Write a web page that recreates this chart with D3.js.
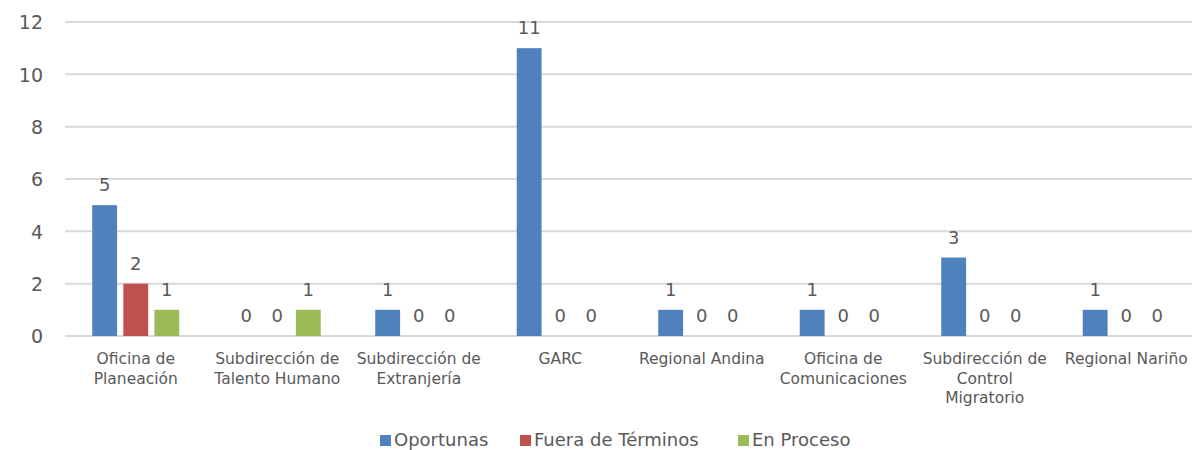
<!DOCTYPE html>
<html>
<head>
<meta charset="utf-8">
<script src="https://cdn.jsdelivr.net/npm/d3@7"></script>
<style>
  body { margin: 0; background: #fff; }
  text { font-family: Verdana, "DejaVu Sans", sans-serif; fill: #595959; }
</style>
</head>
<body>
<div id="chart-area"></div>
<script>
// data
let categories = [
  ["Oficina de", "Planeación"],
  ["Subdirección de", "Talento Humano"],
  ["Subdirección de", "Extranjería"],
  ["GARC"],
  ["Regional Andina"],
  ["Oficina de", "Comunicaciones"],
  ["Subdirección de", "Control", "Migratorio"],
  ["Regional Nariño"]
];
let seriesNames = ["Oportunas", "Fuera de Términos", "En Proceso"];
let oportunas = [5, 0, 1, 11, 1, 1, 3, 1];
let fueraDeTerminos = [2, 0, 0, 0, 0, 0, 0, 0];
let enProceso = [1, 1, 0, 0, 0, 0, 0, 0];
let yTicks = [0, 2, 4, 6, 8, 10, 12];
let colors = ["#4f81bd", "#c0504d", "#9bbb59"];

let width = 1192, height = 450;
let margin = { left: 65, right: -5, top: 22, bottom: 114 };

let svg = d3.select("#chart-area")
  .append("svg")
    .attr("width", width)
    .attr("height", height);

let g = svg.append("g")
  .attr("transform", "translate(" + margin.left + ", " + margin.top + ")");

let innerW = width - margin.left - margin.right;
let innerH = height - margin.top - margin.bottom;

let x0 = d3.scaleBand()
  .domain(d3.range(categories.length))
  .range([0, innerW]);

let groupW = x0.bandwidth() * 0.615;
let x1 = d3.scaleBand()
  .domain(seriesNames)
  .range([(x0.bandwidth() - groupW) / 2, (x0.bandwidth() + groupW) / 2])
  .paddingInner(0.2);

let y = d3.scaleLinear()
  .domain([0, 12])
  .range([innerH, 0]);

// gridlines
g.selectAll(".grid")
  .data(yTicks)
  .enter()
  .append("line")
  .attr("x1", 0)
  .attr("x2", innerW)
  .attr("y1", d => y(d))
  .attr("y2", d => y(d))
  .attr("stroke", "#d9d9d9")
  .attr("stroke-width", 2);

// y axis labels
let yAxisCall = d3.axisLeft(y).tickValues(yTicks).tickSize(0).tickPadding(22);
let yAxisGroup = g.append("g").call(yAxisCall);
yAxisGroup.select(".domain").remove();
yAxisGroup.selectAll("text")
  .attr("font-size", "19px")
  .attr("dy", "0.36em")
  .style("font-family", "Verdana, 'DejaVu Sans', sans-serif")
  .attr("fill", "#595959");

// bars
let seriesValues = [oportunas, fueraDeTerminos, enProceso];
let rows = [];
categories.forEach(function(c, i){
  seriesValues.forEach(function(vals, s){
    rows.push({ cat: i, s: s, v: vals[i] });
  });
});

let bars = g.selectAll(".bar-g")
  .data(rows)
  .enter()
  .append("g")
  .attr("transform", d => "translate(" + (x0(d.cat) + x1(seriesNames[d.s])) + ",0)");

bars.append("rect")
  .attr("y", d => y(d.v))
  .attr("width", x1.bandwidth())
  .attr("height", d => innerH - y(d.v))
  .attr("fill", d => colors[d.s]);

bars.append("text")
  .attr("x", x1.bandwidth() / 2)
  .attr("y", d => y(d.v) - 14)
  .attr("text-anchor", "middle")
  .attr("font-size", "18px")
  .text(d => d.v);

// category labels
let catG = g.selectAll(".cat")
  .data(categories)
  .enter()
  .append("text")
  .attr("text-anchor", "middle")
  .attr("font-size", "15.5px")
  .attr("transform", (d, i) => "translate(" + (x0(i) + x0.bandwidth() / 2) + "," + (innerH + 28) + ")");
catG.selectAll("tspan")
  .data(d => d)
  .enter()
  .append("tspan")
  .attr("x", 0)
  .attr("y", (d, i) => i * 19.5)
  .text(d => d);

// legend
let legendX = [380, 520, 738];
let legend = svg.append("g").attr("transform", "translate(0, 435)");
seriesNames.forEach(function(name, i){
  let row = legend.append("g").attr("transform", "translate(" + legendX[i] + ",0)");
  row.append("rect")
    .attr("width", 11)
    .attr("height", 11)
    .attr("fill", colors[i]);
  row.append("text")
    .attr("x", 14)
    .attr("y", 11)
    .attr("font-size", "18px")
    .text(name);
});
</script>
</body>
</html>
